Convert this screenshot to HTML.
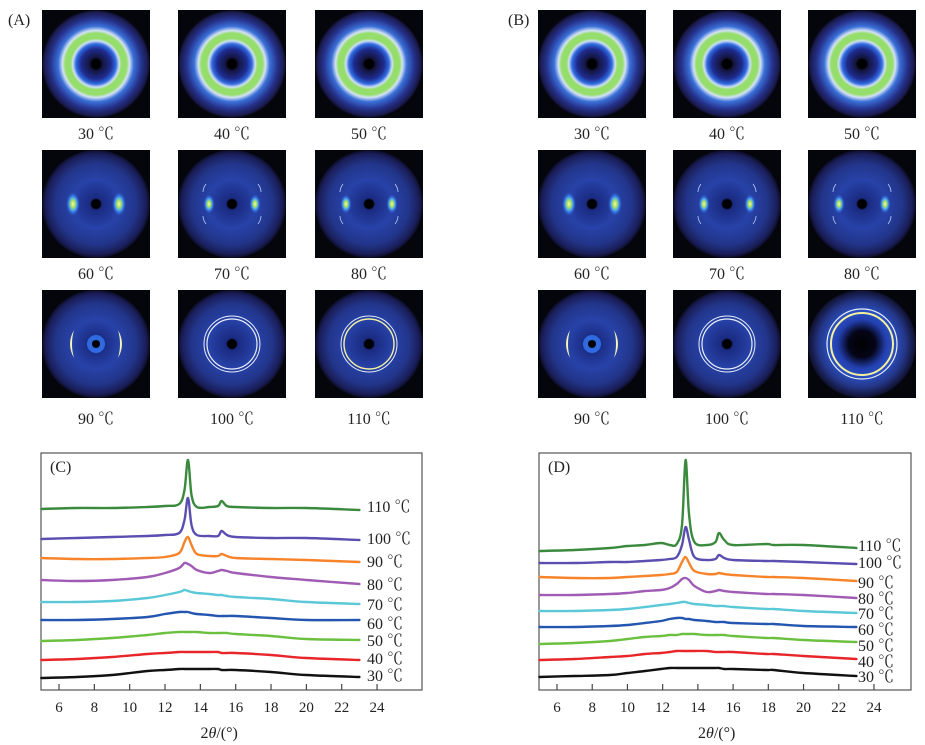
<!DOCTYPE html>
<html><head><meta charset="utf-8"><style>
html,body{margin:0;padding:0;background:#fff;}
svg{display:block;font-family:"Liberation Serif","Noto Serif CJK SC",serif;}
</style></head><body>
<svg id="fig" width="925" height="745" viewBox="0 0 925 745">
<defs>
<radialGradient id="ringG" cx="0.5" cy="0.5" r="0.5">
<stop offset="0" stop-color="#000"/><stop offset="0.08" stop-color="#000"/>
<stop offset="0.12" stop-color="#14143c"/><stop offset="0.28" stop-color="#1e2c90"/>
<stop offset="0.37" stop-color="#2f6ae0"/><stop offset="0.43" stop-color="#cfe0f4"/>
<stop offset="0.47" stop-color="#96de6c"/><stop offset="0.57" stop-color="#96de6c"/>
<stop offset="0.62" stop-color="#d4e2f4"/><stop offset="0.70" stop-color="#3a70d8"/>
<stop offset="0.84" stop-color="#26338e"/><stop offset="0.96" stop-color="#1a1a4c"/>
<stop offset="1" stop-color="#08081a"/></radialGradient>
<radialGradient id="discG" cx="0.5" cy="0.5" r="0.5">
<stop offset="0" stop-color="#000"/><stop offset="0.08" stop-color="#000"/>
<stop offset="0.11" stop-color="#1a2a80"/><stop offset="0.45" stop-color="#2742a8"/>
<stop offset="0.75" stop-color="#22358a"/><stop offset="0.93" stop-color="#1a1e58"/>
<stop offset="1" stop-color="#0c0c26"/></radialGradient>
<radialGradient id="bigG" cx="0.5" cy="0.5" r="0.5">
<stop offset="0" stop-color="#000"/><stop offset="0.25" stop-color="#05051a"/>
<stop offset="0.45" stop-color="#2340b0"/><stop offset="0.6" stop-color="#2a50c0"/>
<stop offset="0.8" stop-color="#24378a"/><stop offset="1" stop-color="#10102c"/></radialGradient>
<radialGradient id="spotG" cx="0.5" cy="0.5" r="0.5">
<stop offset="0" stop-color="#f8ff9a"/><stop offset="0.3" stop-color="#a8e060"/>
<stop offset="0.55" stop-color="#4aa4f0"/><stop offset="1" stop-color="#2a5ae0" stop-opacity="0"/></radialGradient>
</defs>
<g id="tiles"></g>
<g id="charts"></g>
</svg>
<script>
// ---------- chart data ----------
const xC = [5,7,9,11,12,12.8,13.1,13.3,13.5,13.8,14.5,15,15.2,15.5,16,18,20,23];
const xD = [5,7,9,10,11,11.9,12.4,12.8,13.1,13.3,13.5,13.8,14.5,15,15.2,15.5,16,17.9,18.3,20,23];
const seriesLabels = ["110 ℃","100 ℃","90 ℃","80 ℃","70 ℃","60 ℃","50 ℃","40 ℃","30 ℃"];
const seriesColors = ["#3a8a3e","#5a4fb0","#f7842a","#a05bb5","#5bc8d8","#2456b0","#6cc040","#e8262a","#111111"];
const xTicks = [6,8,10,12,14,16,18,20,22,24];
const cS110 = [181,182,182,183,184,186,200,230,195,183,183,184,189,184,183,182,182,180];
const cS100 = [151,152,153,154,155,157,170,192,165,155,154,154,159,155,153,152,152,150];
const cS90  = [132,131,131,132,133,137,148,153,145,136,134,134,136,134,132,131,130,128];
const cS80  = [110,109,110,113,117,122,127,126,124,120,117,119,120,119,117,113,110,106];
const cS70  = [88,88,89,92,95,98,100,99,98,97,96,95,95,94,93,91,88,86];
const cS60  = [70,70,71,73,76,78,78,78,77,76,75,74,74,74,74,72,70,70];
const cS50  = [49,50,52,55,57,58,58,58,58,58,57,57,57,57,56,54,51,50];
const cS40  = [30,31,33,36,37,38,38,38,38,38,38,38,37,37,37,35,32,30];
const cS30  = [12,13,15,19,20,21,21,21,21,21,21,21,20,20,20,18,15,13];
const dS110 = [139,140,142,144,145,147,145,146,165,230,175,148,145,148,157,150,145,146,145,145,142];
const dS100 = [127,127,128,128,129,130,131,133,145,163,150,133,130,131,135,132,130,129,129,128,126];
const dS90  = [113,112,112,113,114,115,116,118,128,133,127,119,116,116,117,116,115,113,113,112,109];
const dS80  = [95,95,96,97,99,100,102,106,111,112,110,104,98,99,100,99,98,96,96,95,92];
const dS70  = [79,79,80,81,83,85,86,87,88,88,87,86,85,84,84,84,83,81,81,79,77];
const dS60  = [63,63,64,65,67,69,71,72,72,71,71,70,69,68,68,68,67,66,66,64,63];
const dS50  = [46,47,49,51,53,54,55,55,56,56,56,56,55,55,55,55,54,52,52,50,48];
const dS40  = [30,31,33,34,36,37,38,39,39,39,39,39,39,38,38,38,38,36,36,34,31];
const dS30  = [13,14,15,17,19,21,22,22,22,22,22,22,22,22,22,21,21,20,20,17,14];
const seriesC = [cS110,cS100,cS90,cS80,cS70,cS60,cS50,cS40,cS30];
const seriesD = [dS110,dS100,dS90,dS80,dS70,dS60,dS50,dS40,dS30];
const labelValsC = [184,152,129,106,86,67,50,32,15];
const labelValsD = [145,128,108,92,77,61,45,29,14];
const tileTemps = ["30 ℃","40 ℃","50 ℃","60 ℃","70 ℃","80 ℃","90 ℃","100 ℃","110 ℃"];

const NS="http://www.w3.org/2000/svg";
function mk(tag,attrs,parent){const e=document.createElementNS(NS,tag);for(const k in attrs)e.setAttribute(k,attrs[k]);parent.appendChild(e);return e;}

// ---------- WAXD tiles ----------
const tilesG=document.getElementById('tiles');
function tile(x,y,kind,panel){
  const g=mk('g',{},tilesG);
  
  
  mk('rect',{x:x,y:y,width:108,height:108,fill:'#05050c'},g);
  const cx=x+54,cy=y+54;
  if(kind<3){ mk('circle',{cx,cy,r:54,fill:'url(#ringG)'},g); }
  else if(kind===8 && panel==='B'){
    mk('circle',{cx,cy,r:54,fill:'url(#bigG)'},g);
    mk('circle',{cx,cy,r:31,fill:'none',stroke:'#f4f0a0','stroke-width':2},g);
    mk('circle',{cx,cy,r:35,fill:'none',stroke:'#e8eef8','stroke-width':1.2},g);
  } else {
    mk('circle',{cx,cy,r:54,fill:'url(#discG)'},g);
    if(kind>=3&&kind<=5){
      const s=kind===3?1:0.8;
      mk('ellipse',{cx:cx-23,cy,rx:7*s,ry:12*s,fill:'url(#spotG)'},g);
      mk('ellipse',{cx:cx+23,cy,rx:7*s,ry:12*s,fill:'url(#spotG)'},g);
      if(kind>3){
        mk('path',{d:`M${cx-26} ${cy-20} q-3 4 -3 8 M${cx+26} ${cy-20} q3 4 3 8 M${cx-26} ${cy+20} q-3 -4 -3 -8 M${cx+26} ${cy+20} q3 -4 3 -8`,stroke:'#b8ccf0','stroke-width':0.8,fill:'none'},g);
      }
    } else if(kind===6){
      mk('path',{d:`M${cx-22} ${cy-14} Q${cx-30} ${cy} ${cx-22} ${cy+14} Q${cx-26} ${cy} ${cx-22} ${cy-14}Z`,fill:'#f0f6b0'},g);
      mk('path',{d:`M${cx+22} ${cy-14} Q${cx+30} ${cy} ${cx+22} ${cy+14} Q${cx+26} ${cy} ${cx+22} ${cy-14}Z`,fill:'#f0f6b0'},g);
      mk('circle',{cx,cy,r:9,fill:'#2f6ae0'},g);
      mk('circle',{cx,cy,r:4,fill:'#000'},g);
    } else if(kind===7){
      mk('circle',{cx,cy,r:25,fill:'none',stroke:'#e8eef8','stroke-width':1.2},g);
      mk('circle',{cx,cy,r:28,fill:'none',stroke:'#e8eef8','stroke-width':1},g);
    } else {
      mk('circle',{cx,cy,r:25,fill:'none',stroke:'#f4f0a0','stroke-width':1.4},g);
      mk('circle',{cx,cy,r:28,fill:'none',stroke:'#e8eef8','stroke-width':1},g);
    }
  }
  const t=mk('text',{x:cx,y:y+129+(kind>=6?5:0),'text-anchor':'middle','font-size':16,fill:'#222'},tilesG);
  t.textContent=tileTemps[kind];
  
  
}
const colsA=[42,178,315], colsB=[538,673,808], rows=[10,150,290];
for(let r=0;r<3;r++)for(let c=0;c<3;c++){tile(colsA[c],rows[r],r*3+c,'A');tile(colsB[c],rows[r],r*3+c,'B');}
const pa=mk('text',{x:8,y:25,'font-size':16,fill:'#222'},tilesG);pa.textContent='(A)';


const pb=mk('text',{x:508,y:25,'font-size':16,fill:'#222'},tilesG);pb.textContent='(B)';



// ---------- XRD charts ----------
const chartsG=document.getElementById('charts');
function smoothPath(pts){
  let d='M'+pts[0][0].toFixed(1)+' '+pts[0][1].toFixed(1);
  for(let i=0;i<pts.length-1;i++){
    const p0=pts[i-1]||pts[i],p1=pts[i],p2=pts[i+1],p3=pts[i+2]||p2;
    const c1x=p1[0]+(p2[0]-p0[0])/6,c1y=p1[1]+(p2[1]-p0[1])/6;
    const c2x=p2[0]-(p3[0]-p1[0])/6,c2y=p2[1]-(p3[1]-p1[1])/6;
    d+=` C${c1x.toFixed(1)} ${c1y.toFixed(1)} ${c2x.toFixed(1)} ${c2y.toFixed(1)} ${p2[0].toFixed(1)} ${p2[1].toFixed(1)}`;
  }
  return d;
}
function chart(name,L,R,x6,k,xs,series,labelVals,labelX){
  const top=453,bot=690;
  const g=mk('g',{},chartsG);
  
  
  const sx=v=>x6+(v-6)*k, sy=v=>bot-v;
  const fr=mk('rect',{x:L,y:top,width:R-L,height:bot-top,fill:'none',stroke:'#555','stroke-width':1.2},g);
  
  
  xTicks.forEach(t=>{
    const tk=mk('line',{x1:sx(t),x2:sx(t),y1:bot,y2:bot-6,stroke:'#444','stroke-width':1.2},g);
    
    
    const tl=mk('text',{x:sx(t),y:712,'text-anchor':'middle','font-size':15,fill:'#222'},g);
    tl.textContent=t;
    
    
  });
  series.forEach((vals,i)=>{
    const pts=vals.map((v,j)=>[sx(xs[j]),sy(v)]);
    const p=mk('path',{d:smoothPath(pts),fill:'none',stroke:seriesColors[i],'stroke-width':2.4,'stroke-linejoin':'round','stroke-linecap':'round'},g);
    
    
    const t=mk('text',{x:labelX,y:sy(labelVals[i])+6,'font-size':16,fill:'#222'},g);
    t.textContent=seriesLabels[i];
    
    
  });
  const pl=mk('text',{x:L+9,y:top+19,'font-size':16,fill:'#222'},g);
  pl.textContent='('+name+')';
  
  
  const at=mk('text',{x:(sx(5)+sx(24))/2+10,y:738,'text-anchor':'middle','font-size':16,fill:'#222'},g);
  at.innerHTML='2<tspan font-style="italic">θ</tspan>/(°)';
  
  
}
chart('C',41,422,59,17.67,xC,seriesC,labelValsC,367);
chart('D',539,911,557,17.61,xD,seriesD,labelValsD,858);
</script>
</body></html>
